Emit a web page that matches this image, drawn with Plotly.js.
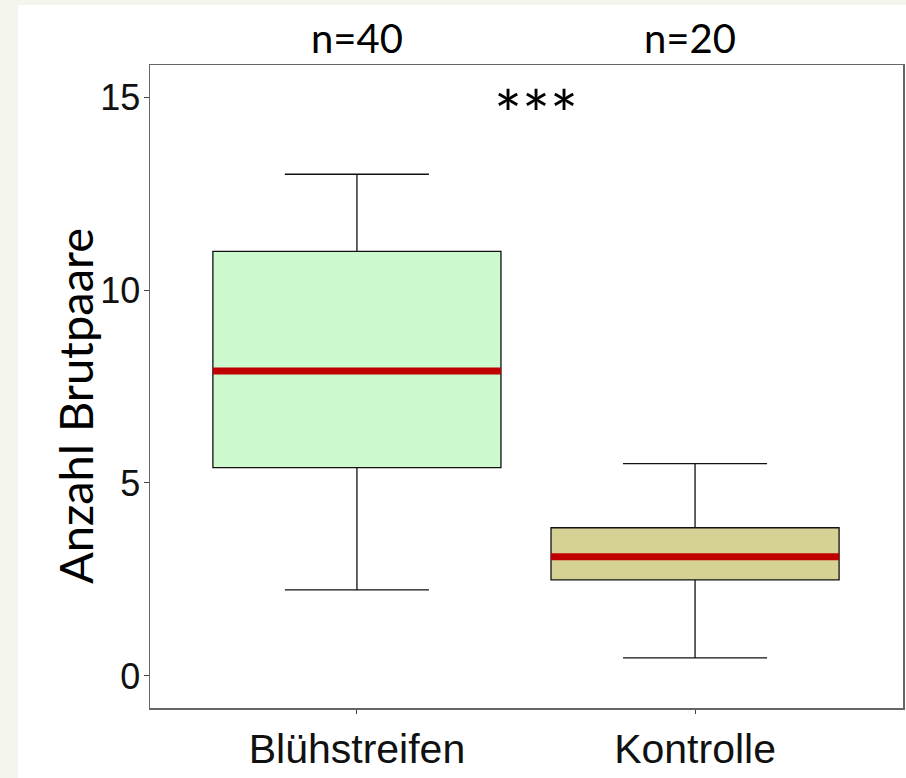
<!DOCTYPE html>
<html>
<head>
<meta charset="utf-8">
<script src="https://cdn.plot.ly/plotly-3.0.1.min.js"></script>
<style>
  html, body { margin: 0; padding: 0; background: #f4f6ee; width: 906px; height: 778px; overflow: hidden; }
  #chart { position: absolute; left: 18px; top: 5px; width: 888px; height: 773px; }
</style>
</head>
<body>
<div id="chart"></div>
<script>
// Data
const categories = ["Blühstreifen", "Kontrolle"];
const sampleSizes = ["n=40", "n=20"];
const lowerWhisker = [2.23, 0.47];
const q1Values = [5.4, 2.49];
const medianValues = [7.9, 3.09];
const q3Values = [11.0, 3.84];
const upperWhisker = [13.0, 5.5];
const significance = "***";
const yTicks = [0, 5, 10, 15];
const yTitle = "Anzahl Brutpaare";

const boxFill = ["rgb(204,250,206)", "rgb(214,210,150)"];
const boxWidth = 0.852;
const positions = categories.map((c, i) => i);
const nShift = [0, -5];

const traces = [];
positions.forEach((p, i) => {
  traces.push({
    type: "box",
    x: [p],
    q1: [q1Values[i]],
    median: [medianValues[i]],
    q3: [q3Values[i]],
    lowerfence: [lowerWhisker[i]],
    upperfence: [upperWhisker[i]],
    width: boxWidth,
    whiskerwidth: 0.5,
    boxpoints: false,
    fillcolor: boxFill[i],
    line: { color: "#111111", width: 1.3 },
    hoverinfo: "skip",
    showlegend: false
  });
});
positions.forEach((p, i) => {
  traces.push({
    type: "scatter",
    mode: "lines",
    x: [p - boxWidth / 2, p + boxWidth / 2],
    y: [medianValues[i], medianValues[i]],
    line: { color: "#c00000", width: 7 },
    hoverinfo: "skip",
    showlegend: false
  });
});

const annotations = positions.map((p, i) => ({
  x: p, xref: "x", y: 1.042, yref: "paper", xshift: nShift[i],
  text: sampleSizes[i], showarrow: false,
  xanchor: "center", yanchor: "middle",
  font: { family: "Lato, 'Open Sans', sans-serif", size: 40, color: "#000" }
}));
annotations.push({
  x: 0.53, xref: "x", y: 14.57, yref: "y",
  text: significance, showarrow: false,
  xanchor: "center", yanchor: "middle",
  font: { family: "Lato, sans-serif", size: 66, color: "#000" }
});
annotations.push({
  x: -0.0996, xref: "paper", y: 0.4697, yref: "paper",
  text: yTitle, textangle: -90, showarrow: false,
  xanchor: "center", yanchor: "middle",
  font: { family: "Lato, sans-serif", size: 47, color: "#000" }
});

const layout = {
  width: 888, height: 773,
  margin: { l: 132, r: 3, t: 60, b: 70 },
  paper_bgcolor: "#ffffff",
  plot_bgcolor: "#ffffff",
  showlegend: false,
  xaxis: {
    range: [-0.612, 1.615],
    tickmode: "array",
    tickvals: positions,
    ticktext: categories,
    ticks: "outside", ticklen: 4, tickcolor: "#444",
    showline: true, mirror: true, linecolor: "#666", linewidth: 1.5,
    showgrid: false, zeroline: false,
    tickfont: { family: "'Liberation Sans', Arial, sans-serif", size: 41, color: "#111" }
  },
  yaxis: {
    range: [-0.83, 15.83],
    tickmode: "array",
    tickvals: yTicks,
    ticks: "outside", ticklen: 5, tickcolor: "#444",
    ticklabelstandoff: -4,
    showline: true, mirror: true, linecolor: "#666", linewidth: 1.5,
    showgrid: false, zeroline: false,
    tickfont: { family: "'Liberation Sans', Arial, sans-serif", size: 36, color: "#111" }
  },
  annotations: annotations
};

Plotly.newPlot("chart", traces, layout, { displayModeBar: false, staticPlot: true });
</script>
</body>
</html>
